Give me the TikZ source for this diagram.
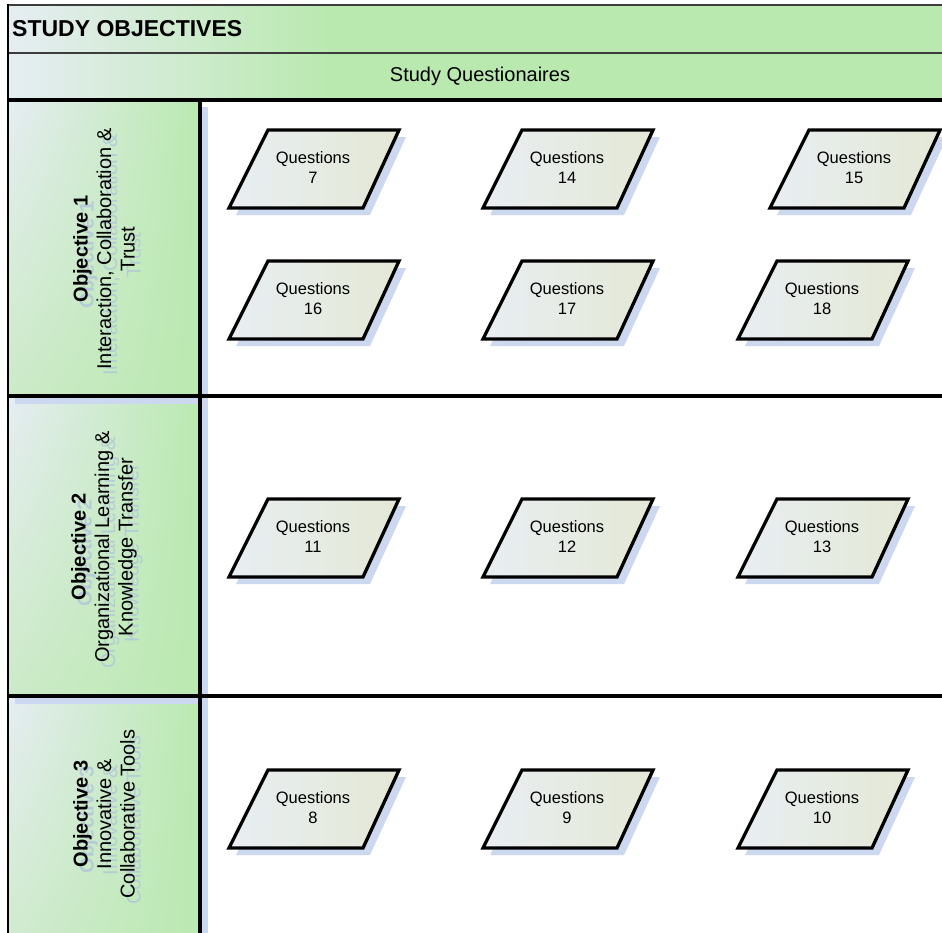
\documentclass[tikz,border=0pt]{standalone}
\usepackage{fontspec}
\setmainfont{Liberation Sans}
\usetikzlibrary{calc,shadings}
\definecolor{lgreen}{RGB}{186,233,176}
\definecolor{pale}{RGB}{230,237,242}
\definecolor{paleg}{RGB}{204,234,200}
\definecolor{shblue}{RGB}{204,215,240}
\definecolor{ghost}{RGB}{172,192,222}
\definecolor{qfillA}{RGB}{232,238,242}
\definecolor{qfillB}{RGB}{228,232,214}
\definecolor{barline}{RGB}{60,60,60}
\pgfdeclarehorizontalshading{barsh}{100bp}{color(0bp)=(pale); color(25bp)=(pale); color(42bp)=(lgreen); color(100bp)=(lgreen)}
\tikzset{
  lanebar/.style={line width=3.5pt, black},
  thinbar/.style={line width=1.8pt, barline},
  qbox/.style={line width=3.3pt, black, line join=miter, left color=qfillA, right color=qfillB},
  qtext/.style={align=center, font=\fontsize{16.5}{20}\selectfont, inner sep=0pt},
  lanetext/.style={rotate=90, align=center, font=\fontsize{20}{23.5}\selectfont, inner sep=0pt},
  ghosttext/.style={lanetext, text=ghost, text opacity=0.7},
  hdrshade/.style={upper left=pale, upper right=lgreen, lower left=paleg, lower right=lgreen}
}
\newcommand\qshape[4]{%
  \fill[shblue] (#2-78,#3+46) -- (#2-39,#3-32) -- (#2+92,#3-32) -- (#2+56,#3+46) -- cycle;
  \shadedraw[qbox] (#2-85,#3+39) -- (#2-46,#3-39) -- (#2+85,#3-39) -- (#2+49,#3+39) -- cycle;
  \node[qtext] (#1) at (#2-1,#3-1) {Questions\\#4};}
\newcommand\lanelabel[5]{%
  \node[ghosttext] (#1g) at (#2+6,#3+6) {\textbf{#4}\\#5};
  \node[lanetext] (#1) at (#2,#3) {\textbf{#4}\\#5};}
\begin{document}
\begin{tikzpicture}[x=1pt,y=-1pt]
\useasboundingbox (0,0) rectangle (942,932);
\fill[white] (0,0) rectangle (942,932);
% title bar and questionnaire bar
\shade[shading=barsh] (8,5) rectangle (950,53);
\shade[shading=barsh] (8,53) rectangle (950,100);
% header cells
\shade[hdrshade] (8,100) rectangle (200,396);
\shade[hdrshade] (8,396) rectangle (200,696);
\shade[hdrshade] (8,696) rectangle (200,992);
% shadows of header cells
\fill[shblue] (201.5,107) rectangle (208,940);
\fill[shblue] (15,397.5) rectangle (208,404);
\fill[shblue] (15,697.5) rectangle (208,704);
% lines
\draw[thinbar] (8,5) -- (950,5);
\draw[thinbar] (8,53) -- (950,53);
\draw[lanebar] (8,100) -- (950,100);
\draw[lanebar] (8,396) -- (950,396);
\draw[lanebar] (8,696) -- (950,696);
\draw[lanebar] (200,100) -- (200,940);
\draw[line width=2.5pt, black] (8,4) -- (8,940);
% texts
\node[anchor=west, inner sep=0pt, font=\fontsize{23}{27}\selectfont\bfseries] (title) at (12,29) {STUDY OBJECTIVES};
\node[inner sep=0pt, font=\fontsize{20}{24}\selectfont] (sq) at (480,76) {Study Questionaires};
\lanelabel{obj1}{104}{249}{Objective 1}{Interaction, Collaboration \&\\Trust}
\lanelabel{obj2}{104}{547}{Objective 2}{Organizational Learning \&\\Knowledge Transfer}
\lanelabel{obj3}{104}{814}{Objective 3}{Innovative \&\\Collaborative Tools}
% question shapes
\qshape{q7}{314}{169}{7}
\qshape{q14}{568}{169}{14}
\qshape{q15}{855}{169}{15}
\qshape{q16}{314}{300}{16}
\qshape{q17}{568}{300}{17}
\qshape{q18}{823}{300}{18}
\qshape{q11}{314}{538}{11}
\qshape{q12}{568}{538}{12}
\qshape{q13}{823}{538}{13}
\qshape{q8}{314}{809}{8}
\qshape{q9}{568}{809}{9}
\qshape{q10}{823}{809}{10}
\end{tikzpicture}
\end{document}
